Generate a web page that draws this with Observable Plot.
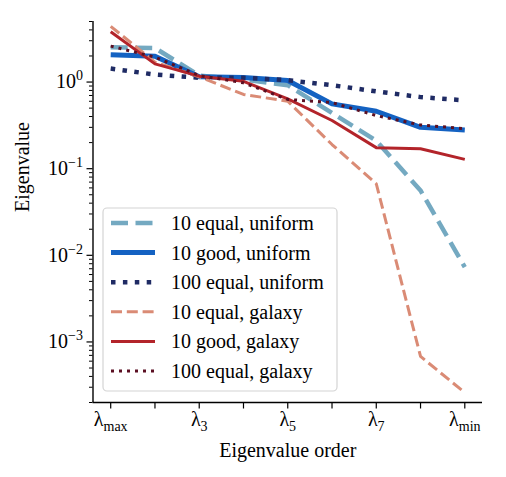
<!DOCTYPE html>
<html><head><meta charset="utf-8">
<script src="https://cdn.jsdelivr.net/npm/d3@7"></script>
<script src="https://cdn.jsdelivr.net/npm/@observablehq/plot@0.6"></script>
<style>
html,body{margin:0;padding:0;background:#fff;}
#chart{width:506px;height:477px;}
</style></head><body><div id="chart"></div>
<script>
// ---- data ----
const order = [1, 2, 3, 4, 5, 6, 7, 8, 9];
const xTickLabels = ["λ_max", "", "λ_3", "", "λ_5", "", "λ_7", "", "λ_min"];
const yMajorTicks = [1e-3, 1e-2, 1e-1, 1];
const yTickLabels = ["10^−3", "10^−2", "10^−1", "10^0"];
const seriesNames = ["10 equal, uniform", "10 good, uniform", "100 equal, uniform",
                     "10 equal, galaxy", "10 good, galaxy", "100 equal, galaxy"];
const equalUniform   = [2.53, 2.47, 1.19, 1.07, 0.92, 0.44, 0.21, 0.056, 0.0073];
const goodUniform    = [2.07, 1.99, 1.15, 1.13, 1.04, 0.56, 0.46, 0.30, 0.28];
const equal100Uniform= [1.43, 1.22, 1.12, 1.12, 1.05, 0.92, 0.78, 0.67, 0.615];
const equalGalaxy    = [4.4, 1.7, 1.15, 0.72, 0.60, 0.19, 0.067, 0.00068, 0.00026];
const goodGalaxy     = [3.8, 1.62, 1.17, 1.02, 0.64, 0.36, 0.175, 0.17, 0.128];
const equal100Galaxy = [2.6, 1.94, 1.19, 0.98, 0.63, 0.58, 0.41, 0.32, 0.29];
const seriesValues = [equalUniform, goodUniform, equal100Uniform, equalGalaxy, goodGalaxy, equal100Galaxy];

// ---- styles ----
const colors = ["#74a9c1", "#1462c2", "#1f2b64", "#da8b75", "#b3242a", "#5b0f22"];
const widths = [4.5, 5, 4.5, 3, 3, 3];
const dashes = ["17,7.5", null, "4.5,7.4", "11,4.8", null, "3,5"];

const xDomain = [0.6, 9.4];
const yDomain = [2e-4, 5];
const yMinorTicks = [];
for (let e = -4; e <= 0; e++) for (let m = 2; m <= 9; m++) {
  const v = m * Math.pow(10, e);
  if (v >= yDomain[0] * 0.999 && v <= yDomain[1] * 1.001) yMinorTicks.push(+v.toPrecision(3));
}

const font = "'Liberation Serif', 'DejaVu Serif', serif";
const marks = [];
seriesValues.forEach((vals, k) => {
  const rows = order.map((o, i) => ({order: o, value: vals[i], series: seriesNames[k]}));
  marks.push(Plot.line(rows, {
    x: "order", y: "value", stroke: colors[k], strokeWidth: widths[k],
    strokeDasharray: dashes[k] || undefined, strokeLinecap: "butt", strokeLinejoin: "round"
  }));
});
marks.push(Plot.ruleX([xDomain[0]], {stroke: "black", strokeWidth: 1.4}));
marks.push(Plot.ruleY([yDomain[0]], {stroke: "black", strokeWidth: 1.4}));
marks.push(Plot.axisX({ticks: order, tickFormat: d => xTickLabels[order.indexOf(d)], tickSize: 6.5, tickPadding: 3, fontSize: 20, label: null, strokeWidth: 1.2}));
marks.push(Plot.axisY({ticks: yMajorTicks, tickFormat: d => yTickLabels[yMajorTicks.indexOf(d)], tickSize: 6, tickPadding: 4, fontSize: 20, label: null, strokeWidth: 1.2}));
marks.push(Plot.axisY({ticks: yMinorTicks, tickFormat: () => "", tickSize: 3.5, label: null, strokeWidth: 1}));
marks.push(Plot.text(["Eigenvalue order"], {frameAnchor: "bottom", dy: 54, fontSize: 20, fill: "black"}));
marks.push(Plot.text(["Eigenvalue"], {frameAnchor: "left", rotate: -90, dx: -70, fontSize: 20, fill: "black"}));

const plot = Plot.plot({
  width: 506, height: 477,
  marginLeft: 92.5, marginRight: 24, marginTop: 21, marginBottom: 75,
  style: {fontFamily: font, fontSize: "20px", background: "white", color: "black"},
  x: {type: "linear", domain: xDomain, label: null},
  y: {type: "log", domain: yDomain, label: null},
  marks
});
document.getElementById("chart").appendChild(plot);

// ---- sub/superscripts in tick labels ----
const svg = d3.select(plot);
svg.selectAll("text").each(function() {
  const t = this.textContent;
  if (t.includes("_")) {
    const [base, sub] = t.split("_");
    const el = d3.select(this); el.text("");
    el.append("tspan").text(base);
    el.append("tspan").attr("dy", 5).attr("font-size", 14).text(sub);
  } else if (t.includes("^")) {
    const [base, sup] = t.split("^");
    const el = d3.select(this); el.text("");
    el.append("tspan").text(base);
    el.append("tspan").attr("dy", -8).attr("font-size", 14).text(sup);
  }
});

// ---- legend ----
const lg = svg.append("g");
lg.append("rect").attr("x", 103).attr("y", 208).attr("width", 234).attr("height", 183)
  .attr("rx", 4).attr("fill", "white").attr("fill-opacity", 0.8).attr("stroke", "#d4d4d4").attr("stroke-width", 1.2);
seriesNames.forEach((name, k) => {
  const cy = 223 + k * 29.6;
  lg.append("line").attr("x1", 111).attr("x2", 155).attr("y1", cy).attr("y2", cy)
    .attr("stroke", colors[k]).attr("stroke-width", widths[k])
    .attr("stroke-dasharray", dashes[k] || null).attr("stroke-linecap", "butt");
  lg.append("text").attr("x", 171).attr("y", cy + 7)
    .attr("style", `font-family: ${font}; font-size: 20px; text-anchor: start; fill: black;`)
    .text(name);
});
</script></body></html>
